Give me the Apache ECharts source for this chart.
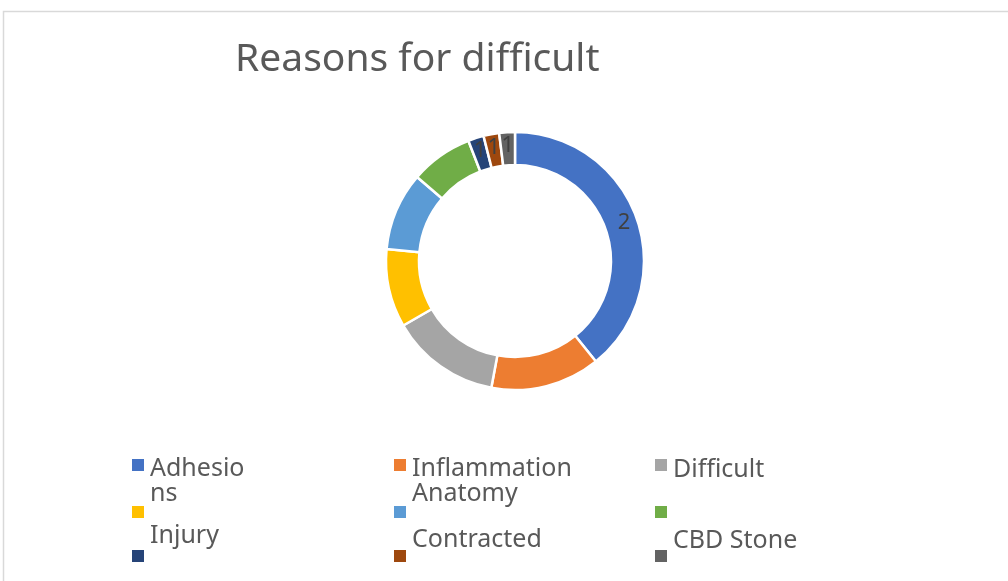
<!DOCTYPE html>
<html>
<head>
<meta charset="utf-8">
<script src="https://cdn.jsdelivr.net/npm/echarts@6/dist/echarts.min.js"></script>
<style>
  html, body { margin: 0; padding: 0; background: #fff; }
  #chart { width: 1008px; height: 581px; }
</style>
</head>
<body>
<div id="chart"></div>
<script>
// data
var categories = ['Adhesions', 'Inflammation', 'Difficult', 'Item 4', 'Anatomy', 'Item 6', 'Injury', 'Contracted', 'CBD Stone'];
var values = [20, 7, 7, 5, 5, 4, 1, 1, 1];
var sliceLabels = ['2', '', '', '', '', '', '1', '1', '1'];
var legendTexts = ['Adhesio\nns', 'Inflammation\nAnatomy', 'Difficult', '', '', '', 'Injury', 'Contracted', 'CBD Stone'];
var colors = ['#4472C4', '#ED7D31', '#A5A5A5', '#FFC000', '#5B9BD5', '#70AD47', '#264478', '#9E480E', '#636363'];

var font = '"Noto Sans", sans-serif';
var textColor = '#595959';

// legend grid: 3 columns x 3 rows, text shifted up/down like in the original
var colX = [130, 392, 653];
var rowIconTop = [459, 504, 549];
var shift = [16, 16, 5, 0, 0, 0, -20, -16, -15];
var topFix = [14, 14, 3, 0, 0, 0, 0, 0, 0];
var lh = 25;

var legends = categories.map(function (name, i) {
  var col = i % 3, row = Math.floor(i / 3);
  var txt = legendTexts[i];
  var s = shift[i];
  var lines = txt ? txt.split('\n') : [];
  var parts = lines.map(function (l) { return '{t|' + l + '}'; });
  var gap = Math.abs(2 * s);
  if (txt && gap > 0) {
    if (s > 0) parts.unshift('{g| }'); else parts.push('{g| }');
  }
  var totalH = lines.length ? lines.length * lh + gap : 14;
  var top = rowIconTop[row] + 7 - Math.max(totalH, 14) / 2 + topFix[i];
  return {
    data: [name],
    left: colX[col],
    top: top,
    padding: 0,
    itemWidth: 14,
    itemHeight: 14,
    itemGap: 0,
    icon: 'rect',
    selectedMode: false,
    formatter: function () { return parts.join('\n'); },
    textStyle: {
      color: textColor,
      fontFamily: font,
      fontSize: 25,
      rich: {
        t: { color: textColor, fontFamily: font, fontSize: 25, lineHeight: lh },
        g: { fontSize: 2, lineHeight: gap }
      }
    }
  };
});

var myChart = echarts.init(document.getElementById('chart'));
myChart.setOption({
  animation: false,
  color: colors,
  title: {
    text: 'Reasons for difficult',
    left: 230,
    top: 35,
    textStyle: {
      color: textColor,
      fontFamily: font,
      fontSize: 39,
      fontWeight: 'normal'
    }
  },
  graphic: [{
    type: 'rect',
    shape: { x: 3.5, y: 11.5, width: 1200, height: 800 },
    style: { fill: 'none', stroke: '#d9d9d9', lineWidth: 1.5 },
    silent: true
  }],
  legend: legends,
  series: [{
    type: 'pie',
    center: [515, 261],
    radius: [96, 129],
    startAngle: 90,
    clockwise: true,
    avoidLabelOverlap: false,
    itemStyle: { borderColor: '#fff', borderWidth: 2.5 },
    label: {
      show: true,
      position: 'inside',
      color: '#404040',
      fontFamily: font,
      fontSize: 22,
      formatter: function (p) { return sliceLabels[p.dataIndex]; }
    },
    labelLine: { show: false },
    data: categories.map(function (c, i) { return { name: c, value: values[i] }; })
  }]
});

window.addEventListener('resize', function () {
  myChart.resize();
}, false);
</script>
</body>
</html>
